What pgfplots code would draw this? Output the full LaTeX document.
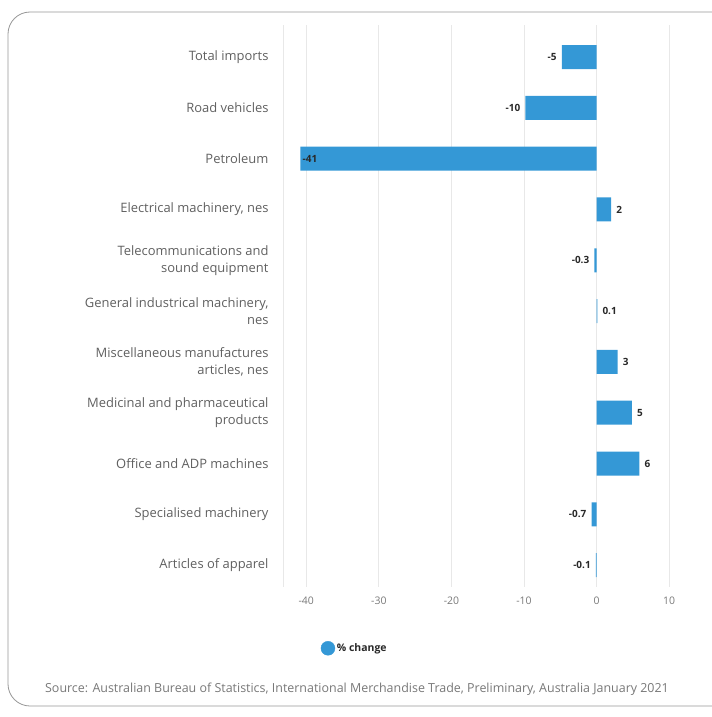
\documentclass[border=0pt]{standalone}
\usepackage{pgfplots}
\pgfplotsset{compat=1.18}
\usepackage{fontspec}
\setmainfont{Open Sans}
\definecolor{barblue}{RGB}{52,152,214}
\definecolor{lblgrey}{RGB}{95,95,95}
\definecolor{tickgrey}{RGB}{120,120,120}
\definecolor{gridgrey}{RGB}{232,232,232}
\definecolor{framegrey}{RGB}{150,150,150}
\definecolor{valdark}{RGB}{40,40,40}
\begin{document}
\begin{tikzpicture}
\useasboundingbox (0bp,0bp) rectangle (712bp,-717bp);
\begin{scope}
\clip (0bp,0bp) rectangle (712bp,-717bp);
\draw[framegrey, line width=0.8bp, rounded corners=22bp] (8bp,-12bp) rectangle (760bp,-706bp);
\end{scope}
\begin{axis}[
  at={(283bp,-25bp)}, anchor=north west,
  scale only axis, width=408bp, height=562bp,
  xmin=-43.2, xmax=13, ymin=-0.63, ymax=10.43, y dir=reverse,
  axis line style={draw=none},
  major tick length=0pt,
  xtick={-40,-30,-20,-10,0,10},
  /pgf/number format/assume math mode=true,
  xmajorgrids, grid style={gridgrey, line width=0.8bp},
  xticklabel style={font=\fontsize{10.5}{12}\selectfont, text=tickgrey, yshift=-6bp},
  ytick={0,...,10},
  yticklabels={Total imports, Road vehicles, Petroleum, {Electrical machinery, nes},
    {Telecommunications and\\sound equipment}, {General industrical machinery,\\nes},
    {Miscellaneous manufactures\\articles, nes}, {Medicinal and pharmaceutical\\products},
    {Office and ADP machines}, Specialised machinery, Articles of apparel},
  yticklabel style={font=\fontsize{13}{17}\selectfont, text=lblgrey, align=right, xshift=-11bp},
  legend style={at={(0.176,-0.109)}, anchor=center, draw=none, fill=none,
    font=\bfseries\fontsize{10.5}{12}\selectfont, text=valdark},
  legend cell align=left,
]
\draw[gridgrey, line width=0.8bp] (rel axis cs:0,0) -- (rel axis cs:0,1);
\addplot[xbar, bar width=24bp, fill=barblue, draw=none, forget plot] coordinates {
  (-4.8,0) (-9.8,1) (-40.8,2) (2.0,3) (-0.3,4) (0.1,5) (2.9,6) (4.85,7) (5.9,8) (-0.7,9) (-0.1,10)};
% labels left of negative bars
\addplot[only marks, mark=none, forget plot, nodes near coords, point meta=explicit symbolic,
  every node near coord/.append style={anchor=east, inner sep=2bp, xshift=-3bp, text=valdark,
    font=\bfseries\fontsize{10}{11}\selectfont}] coordinates {
  (-4.8,0) [-5] (-9.8,1) [-10] (-0.3,4) [-0.3] (-0.7,9) [-0.7] (-0.1,10) [-0.1]};
% labels right of positive bars
\addplot[only marks, mark=none, forget plot, nodes near coords, point meta=explicit symbolic,
  every node near coord/.append style={anchor=west, inner sep=2bp, xshift=3bp, text=valdark,
    font=\bfseries\fontsize{10}{11}\selectfont}] coordinates {
  (2.0,3) [2] (0.1,5) [0.1] (2.9,6) [3] (4.85,7) [5] (5.9,8) [6]};
% label inside petroleum bar
\addplot[only marks, mark=none, forget plot, nodes near coords, point meta=explicit symbolic,
  every node near coord/.append style={anchor=west, inner sep=2bp, xshift=0bp, text=valdark,
    font=\bfseries\fontsize{10}{11}\selectfont}] coordinates {(-40.8,2) [-41]};
\addlegendimage{only marks, mark=*, mark size=7bp, color=barblue}
\addlegendentry{\% change}
\end{axis}
\node[font=\fontsize{12.5}{14}\selectfont, text=tickgrey] at (357bp,-689bp)
  {Source: Australian Bureau of Statistics, International Merchandise Trade, Preliminary, Australia January 2021};
\end{tikzpicture}
\end{document}
